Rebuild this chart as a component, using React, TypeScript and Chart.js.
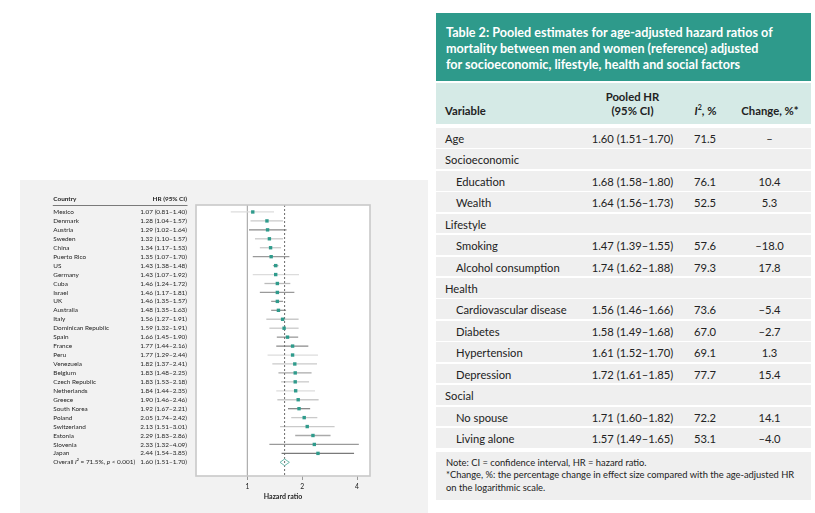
import React, { useEffect, useRef } from "react";
import { Chart, registerables } from "chart.js";

Chart.register(...registerables);

const FONT = "Lato, 'Noto Sans', sans-serif";

// ---------------- forest plot data ----------------
const countries = [
  "Mexico", "Denmark", "Austria", "Sweden", "China", "Puerto Rico", "US", "Germany",
  "Cuba", "Israel", "UK", "Australia", "Italy", "Dominican Republic", "Spain", "France",
  "Peru", "Venezuela", "Belgium", "Czech Republic", "Netherlands", "Greece", "South Korea",
  "Poland", "Switzerland", "Estonia", "Slovenia", "Japan",
];
const hazardRatios = [
  1.07, 1.28, 1.29, 1.32, 1.34, 1.35, 1.43, 1.43, 1.46, 1.46, 1.46, 1.48, 1.56, 1.59,
  1.66, 1.77, 1.77, 1.82, 1.83, 1.83, 1.84, 1.9, 1.92, 2.05, 2.13, 2.29, 2.33, 2.44,
];
const ciLower = [
  0.81, 1.04, 1.02, 1.1, 1.17, 1.07, 1.38, 1.07, 1.24, 1.17, 1.35, 1.35, 1.27, 1.32,
  1.45, 1.44, 1.29, 1.37, 1.48, 1.53, 1.44, 1.46, 1.67, 1.74, 1.51, 1.83, 1.32, 1.54,
];
const ciUpper = [
  1.4, 1.57, 1.64, 1.57, 1.53, 1.7, 1.48, 1.92, 1.72, 1.81, 1.57, 1.63, 1.91, 1.91,
  1.9, 2.16, 2.44, 2.41, 2.25, 2.18, 2.35, 2.46, 2.21, 2.42, 3.01, 2.86, 4.09, 3.85,
];
const overallHR = 1.6;
const overallLower = 1.51;
const overallUpper = 1.7;
const overallI2 = 71.5;
const overallPText = "< 0.001";
const xTickValues = [1, 2, 4];
const xAxisMin = 0.522;
const xAxisMax = 4.71;

// ---------------- forest plot styles ----------------
const ciShades = [
  "#dcdcdc", "#cacaca", "#8a8a8a", "#cacaca", "#cacaca", "#9a9a9a", "#aaaaaa", "#dcdcdc",
  "#bbbbbb", "#9a9a9a", "#9a9a9a", "#9a9a9a", "#cacaca", "#cacaca", "#9a9a9a", "#8a8a8a",
  "#dcdcdc", "#cacaca", "#aaaaaa", "#cacaca", "#dcdcdc", "#cacaca", "#8a8a8a", "#cacaca",
  "#cacaca", "#aaaaaa", "#9a9a9a", "#7a7a7a",
];
const TEAL = "#2f9b8c";
const LEFT_FONT = 6.4;

// ---------------- table data ----------------
const tableLabels = [
  "Age", "Socioeconomic", "Education", "Wealth", "Lifestyle", "Smoking",
  "Alcohol consumption", "Health", "Cardiovascular disease", "Diabetes", "Hypertension",
  "Depression", "Social", "No spouse", "Living alone",
];
const tableIndent = [0, 0, 1, 1, 0, 1, 1, 0, 1, 1, 1, 1, 0, 1, 1];
const tableHR = [1.6, null, 1.68, 1.64, null, 1.47, 1.74, null, 1.56, 1.58, 1.61, 1.72, null, 1.71, 1.57];
const tableLower = [1.51, null, 1.58, 1.56, null, 1.39, 1.62, null, 1.46, 1.49, 1.52, 1.61, null, 1.6, 1.49];
const tableUpper = [1.7, null, 1.8, 1.73, null, 1.55, 1.88, null, 1.66, 1.68, 1.7, 1.85, null, 1.82, 1.65];
const tableI2 = [71.5, null, 76.1, 52.5, null, 57.6, 79.3, null, 73.6, 67.0, 69.1, 77.7, null, 72.2, 53.1];
const tableChange = [null, null, 10.4, 5.3, null, -18.0, 17.8, null, -5.4, -2.7, 1.3, 15.4, null, 14.1, -4.0];

const TITLE_BG = "#2e9a8b";
const HEADER_BG = "#d5eae6";
const ROW_BG = "#efefef";

const fmt = (v: number, d: number) => (v < 0 ? "\u2013" + Math.abs(v).toFixed(d) : v.toFixed(d));
const ciText = (h: number, lo: number, hi: number) =>
  `${h.toFixed(2)} (${lo.toFixed(2)}\u2013${hi.toFixed(2)})`;

function ForestPlot() {
  const ref = useRef<HTMLCanvasElement>(null);
  useEffect(() => {
    const n = countries.length;
    const yMin = -0.78;
    const yMax = n + 1.53;
    const diamondHalf = 0.37;

    const textPlugin = {
      id: "forestText",
      beforeDraw(chart: any) {
        const { ctx, chartArea } = chart;
        ctx.save();
        ctx.fillStyle = "#ffffff";
        ctx.fillRect(chartArea.left, chartArea.top, chartArea.right - chartArea.left, chartArea.bottom - chartArea.top);
        ctx.restore();
      },
      afterDraw(chart: any) {
        const { ctx, chartArea } = chart;
        const ys = chart.scales.y;
        const colLeft = 33.3;
        const colRight = 167;
        ctx.save();
        // plot frame
        ctx.strokeStyle = "#c9c9c9";
        ctx.lineWidth = 1.6;
        ctx.strokeRect(chartArea.left, chartArea.top, chartArea.right - chartArea.left, chartArea.bottom - chartArea.top);

        const y0 = ys.getPixelForValue(0);
        ctx.fillStyle = "#1e1e1e";
        ctx.textBaseline = "middle";
        ctx.font = `bold ${LEFT_FONT}px ${FONT}`;
        ctx.textAlign = "left";
        ctx.fillText("Country", colLeft, y0 - 13.5);
        ctx.textAlign = "right";
        ctx.fillText("HR (95% CI)", colRight, y0 - 13.5);
        ctx.strokeStyle = "#7a7a7a";
        ctx.lineWidth = 1;
        ctx.beginPath();
        const ly = Math.round(y0 - 6.7) + 0.5;
        ctx.moveTo(colLeft - 0.5, ly);
        ctx.lineTo(colRight + 0.5, ly);
        ctx.stroke();

        ctx.font = `${LEFT_FONT}px ${FONT}`;
        countries.forEach((c, i) => {
          const y = ys.getPixelForValue(i);
          ctx.textAlign = "left";
          ctx.fillText(c, colLeft, y);
          ctx.textAlign = "right";
          ctx.fillText(ciText(hazardRatios[i], ciLower[i], ciUpper[i]), colRight, y);
        });
        const oy = ys.getPixelForValue(n);
        ctx.textAlign = "right";
        ctx.fillText(ciText(overallHR, overallLower, overallUpper), colRight, oy);
        ctx.textAlign = "left";
        const segs: [string, boolean][] = [
          ["Overall ", false],
          ["I", true],
          [`\u00b2 = ${overallI2.toFixed(1)}%, `, false],
          ["p", true],
          [` ${overallPText})`, false],
        ];
        let cx = colLeft;
        for (const [t, it] of segs) {
          ctx.font = `${it ? "italic " : ""}${LEFT_FONT}px ${FONT}`;
          ctx.fillText(t, cx, oy);
          cx += ctx.measureText(t).width;
        }
        ctx.restore();
      },
    };

    const line = (data: any[], color: string, width: number, dash: number[] = []) => ({
      data,
      showLine: true,
      borderColor: color,
      borderWidth: width,
      borderDash: dash,
      pointRadius: 0,
      fill: false,
      tension: 0,
    });

    const datasets: any[] = [
      {
        data: countries.map((_, i) => ({ x: hazardRatios[i], y: i })),
        showLine: false,
        pointStyle: "rect",
        pointRadius: 2.4,
        backgroundColor: TEAL,
        borderWidth: 0,
      },
      line(
        [
          { x: overallLower, y: n },
          { x: overallHR, y: n - diamondHalf },
          { x: overallUpper, y: n },
          { x: overallHR, y: n + diamondHalf },
          { x: overallLower, y: n },
        ],
        "#6dbaae",
        1
      ),
      line([{ x: overallHR, y: yMin }, { x: overallHR, y: yMax }], "#6a6a6a", 1, [2, 2]),
      ...countries.map((_, i) =>
        line([{ x: ciLower[i], y: i }, { x: ciUpper[i], y: i }], ciShades[i], 1.3)
      ),
      line([{ x: 1, y: yMin }, { x: 1, y: yMax }], "#b0b0b0", 1),
    ];

    const chart = new Chart(ref.current as HTMLCanvasElement, {
      type: "scatter",
      data: { datasets },
      options: {
        responsive: false,
        maintainAspectRatio: false,
        devicePixelRatio: 1,
        animation: false,
        events: [],
        layout: { padding: { left: 176, top: 25, right: 58, bottom: 0 } },
        plugins: { legend: { display: false }, tooltip: { enabled: false } },
        scales: {
          x: {
            type: "logarithmic",
            min: xAxisMin,
            max: xAxisMax,
            afterBuildTicks: (s: any) => {
              s.ticks = xTickValues.map((v) => ({ value: v }));
            },
            afterFit: (s: any) => {
              s.height = 37;
            },
            ticks: {
              callback: (v: any) => String(v),
              font: { size: 6.8, family: FONT },
              color: "#222",
              padding: 3,
              autoSkip: false,
              maxRotation: 0,
            },
            grid: { drawOnChartArea: false, drawTicks: true, tickLength: 4, color: "#9a9a9a" },
            border: { display: false },
            title: {
              display: true,
              text: "Hazard ratio",
              font: { size: 7, family: FONT, weight: "bold" },
              color: "#1e1e1e",
              padding: { top: 0, bottom: 12 },
            },
          },
          y: { type: "linear", min: yMin, max: yMax, reverse: true, display: false },
        },
      },
      plugins: [textPlugin],
    } as any);
    return () => chart.destroy();
  }, []);
  return <canvas ref={ref} width={408} height={333} style={{ display: "block", width: 408, height: 333 }} />;
}

function StatsTable() {
  const HR_C = 196.5;
  const I2_C = 269;
  const CH_C = 333.5;
  const cell = (center: number, w: number): React.CSSProperties => ({
    position: "absolute",
    left: center - w / 2,
    width: w,
    textAlign: "center",
  });
  return (
    <div style={{ position: "absolute", left: 436, top: 13, width: 375, fontFamily: FONT, color: "#222" }}>
      <div
        style={{
          height: 68,
          boxSizing: "border-box",
          background: TITLE_BG,
          color: "#fff",
          fontWeight: 700,
          fontSize: 12.6,
          lineHeight: "15.8px",
          padding: "12px 0 0 10px",
          whiteSpace: "nowrap",
        }}
      >
        Table 2: Pooled estimates for age-adjusted hazard ratios of
        <br />
        mortality between men and women (reference) adjusted
        <br />
        for socioeconomic, lifestyle, health and social factors
      </div>
      <div
        style={{
          marginTop: 1.7,
          height: 41.3,
          background: HEADER_BG,
          position: "relative",
          fontWeight: 700,
          fontSize: 11.3,
          lineHeight: "14.7px",
          whiteSpace: "nowrap",
        }}
      >
        <div style={{ position: "absolute", left: 9, top: 21.6 }}>Variable</div>
        <div style={{ ...cell(HR_C, 100), top: 6.9 }}>
          Pooled HR
          <br />
          (95% CI)
        </div>
        <div style={{ ...cell(I2_C + 0.5, 60), top: 21.6 }}>
          <i>I</i>
          <sup style={{ fontSize: 7, lineHeight: 0 }}>2</sup>, %
        </div>
        <div style={{ ...cell(CH_C + 0.5, 90), top: 21.6 }}>Change, %*</div>
      </div>
      <div style={{ marginTop: 4 }}>
        {tableLabels.map((lab, i) => {
          const h = tableHR[i];
          const ch = tableChange[i];
          return (
            <div
              key={lab}
              style={{
                position: "relative",
                height: 19.7,
                marginBottom: 1.75,
                background: ROW_BG,
                fontSize: 11.2,
                lineHeight: "19.7px",
                whiteSpace: "nowrap",
              }}
            >
              <div style={{ position: "absolute", left: tableIndent[i] ? 20 : 9, top: 1 }}>{lab}</div>
              {h !== null && (
                <>
                  <div style={{ ...cell(HR_C, 110), top: 1 }}>
                    {ciText(h, tableLower[i] as number, tableUpper[i] as number)}
                  </div>
                  <div style={{ ...cell(I2_C, 50), top: 1 }}>{(tableI2[i] as number).toFixed(1)}</div>
                  <div style={{ ...cell(CH_C, 60), top: 1 }}>{ch === null ? "\u2013" : fmt(ch, 1)}</div>
                </>
              )}
            </div>
          );
        })}
      </div>
      <div
        style={{
          marginTop: 4.25,
          height: 48,
          boxSizing: "border-box",
          background: ROW_BG,
          fontSize: 9.35,
          lineHeight: "12.5px",
          padding: "4.5px 0 0 10px",
          whiteSpace: "nowrap",
        }}
      >
        Note: CI = confidence interval, HR = hazard ratio.
        <br />
        *Change, %: the percentage change in effect size compared with the age-adjusted HR
        <br />
        on the logarithmic scale.
      </div>
    </div>
  );
}

export default function App() {
  return (
    <div
      style={{
        position: "absolute",
        left: 0,
        top: 0,
        width: 815,
        height: 513,
        background: "#fff",
        overflow: "hidden",
        fontFamily: FONT,
      }}
    >
      <div style={{ position: "absolute", left: 20, top: 180, width: 408, height: 333, background: "#f2f2f2" }}>
        <ForestPlot />
      </div>
      <StatsTable />
    </div>
  );
}
